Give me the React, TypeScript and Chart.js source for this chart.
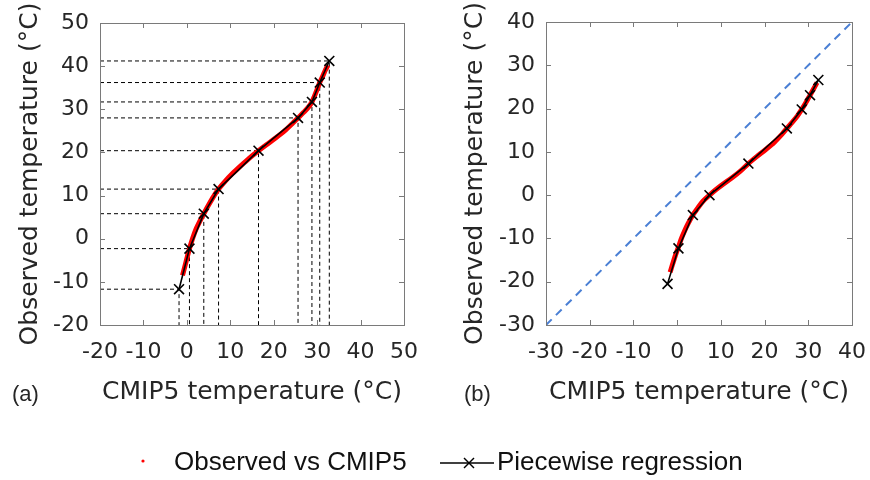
import React, { useEffect, useRef } from "react";
import { Chart, registerables } from "chart.js";

Chart.register(...registerables);

// ---------- data ----------
// Panel (a): observed vs CMIP5 (red)
const obsAX = [-1.0, -0.4, 0.1, 0.6, 1.3, 2.1, 3.0, 3.9, 5.0, 6.1, 7.3, 8.8, 10.5, 12.4, 14.4, 16.5, 18.5, 20.5, 22.5, 24.2, 25.6, 26.9, 28.0, 28.8, 29.4, 30.0, 30.6, 31.3, 31.9, 32.5];
const obsAY = [-8.5, -6.2, -4.2, -2.3, 0.0, 2.2, 4.1, 5.8, 7.8, 9.7, 11.5, 13.3, 15.1, 16.9, 18.7, 20.4, 21.9, 23.4, 25.0, 26.6, 28.0, 29.3, 30.5, 31.7, 33.1, 34.6, 36.2, 37.7, 39.1, 40.2];
// Panel (a): piecewise regression breakpoints
const regAX = [-1.8, 0.6, 3.9, 7.3, 16.5, 25.6, 28.8, 30.6, 32.8];
const regAY = [-11.7, -2.3, 5.8, 11.5, 20.4, 28.0, 31.7, 36.2, 41.2];

// Panel (b): observed vs CMIP5 (red)
const obsBX = [-1.6, -1.0, -0.4, 0.3, 0.9, 1.6, 2.5, 3.6, 4.7, 5.9, 7.4, 8.9, 10.6, 12.4, 14.4, 16.3, 18.2, 20.2, 22.2, 24.0, 25.1, 26.3, 27.5, 28.5, 29.4, 30.4, 31.3, 32.0];
const obsBY = [-17.8, -15.8, -13.9, -12.0, -10.2, -8.5, -6.6, -4.6, -3.0, -1.4, 0.0, 1.3, 2.6, 3.9, 5.5, 7.3, 8.9, 10.5, 12.2, 14.1, 15.4, 16.8, 18.3, 19.8, 21.3, 23.1, 24.7, 26.0];
// Panel (b): piecewise regression breakpoints
const regBX = [-2.2, 0.3, 3.6, 7.4, 16.3, 25.1, 28.5, 30.4, 32.3];
const regBY = [-20.5, -12.3, -4.6, 0.0, 7.3, 15.4, 19.8, 23.1, 26.6];

// 1:1 line for panel (b)
const diagX = [-30, 40];
const diagY = [-30, 40];

// axis ranges / ticks
const rangeA = [-20, 50];
const rangeB = [-30, 40];
const tickStep = 10;

const xTitle = "CMIP5 temperature (°C)";
const yTitle = "Observed temperature (°C)";
const legendObs = "Observed vs CMIP5";
const legendReg = "Piecewise regression";

// ---------- helpers ----------
const pts = (xs: number[], ys: number[]) => xs.map((x, i) => ({ x, y: ys[i] }));

const AXIS_FONT = "'DejaVu Sans', 'Liberation Sans', sans-serif";
const TEXT_COLOR = "#262626";

const boxPlugin = {
  id: "matlabBox",
  afterDatasetsDraw(chart: any) {
    const { ctx, chartArea: a, scales } = chart;
    ctx.save();
    ctx.strokeStyle = "#7a7a7a";
    ctx.lineWidth = 1;
    const L = 5;
    ctx.beginPath();
    scales.x.ticks.forEach((t: any) => {
      const px = Math.round(scales.x.getPixelForValue(t.value)) + 0.5;
      ctx.moveTo(px, a.bottom);
      ctx.lineTo(px, a.bottom - L);
      ctx.moveTo(px, a.top);
      ctx.lineTo(px, a.top + L);
    });
    scales.y.ticks.forEach((t: any) => {
      const py = Math.round(scales.y.getPixelForValue(t.value)) + 0.5;
      ctx.moveTo(a.left, py);
      ctx.lineTo(a.left + L, py);
      ctx.moveTo(a.right, py);
      ctx.lineTo(a.right - L, py);
    });
    ctx.stroke();
    ctx.strokeRect(Math.round(a.left) + 0.5, Math.round(a.top) + 0.5, Math.round(a.right - a.left), Math.round(a.bottom - a.top));
    ctx.restore();
  },
};

function makeConfig(opts: {
  range: number[];
  obs: { x: number; y: number }[];
  reg: { x: number; y: number }[];
  extra: any[];
  yAxisWidth: number;
  padRight: number;
  padTop: number;
  xAxisHeight: number;
  yTitlePad: number;
}) {
  return {
    type: "scatter" as const,
    data: {
      datasets: [
        {
          label: legendReg,
          data: opts.reg,
          showLine: true,
          borderColor: "#000000",
          borderWidth: 1.6,
          pointStyle: "crossRot",
          pointRadius: 7,
          pointBorderWidth: 1.6,
          pointBorderColor: "#000000",
          order: 0,
        },
        {
          label: legendObs,
          data: opts.obs,
          showLine: true,
          borderColor: "#ff0000",
          borderWidth: 5,
          tension: 0.3,
          pointRadius: 0,
          order: 1,
        },
        ...opts.extra,
      ],
    },
    options: {
      animation: false,
      responsive: false,
      devicePixelRatio: 1,
      layout: { padding: { left: 0, right: opts.padRight, top: opts.padTop, bottom: 0 } },
      plugins: { legend: { display: false }, tooltip: { enabled: false } },
      scales: {
        x: {
          type: "linear",
          min: opts.range[0],
          max: opts.range[1],
          grid: { display: false, drawTicks: false },
          border: { display: false },
          ticks: {
            stepSize: tickStep,
            padding: 14,
            color: TEXT_COLOR,
            font: { family: AXIS_FONT, size: 22 },
            maxRotation: 0,
            autoSkip: false,
          },
          title: {
            display: true,
            text: xTitle,
            color: TEXT_COLOR,
            font: { family: AXIS_FONT, size: 25 },
            padding: { top: 0, bottom: 13 },
          },
          afterFit: (s: any) => {
            s.height = opts.xAxisHeight;
            s.paddingLeft = 0;
            s.paddingRight = 0;
          },
        },
        y: {
          type: "linear",
          min: opts.range[0],
          max: opts.range[1],
          grid: { display: false, drawTicks: false },
          border: { display: false },
          ticks: {
            stepSize: tickStep,
            padding: 11,
            color: TEXT_COLOR,
            font: { family: AXIS_FONT, size: 22 },
            autoSkip: false,
          },
          title: {
            display: true,
            text: yTitle,
            color: TEXT_COLOR,
            font: { family: AXIS_FONT, size: 25 },
            padding: { top: opts.yTitlePad, bottom: 0 },
          },
          afterFit: (s: any) => {
            s.width = opts.yAxisWidth;
            s.paddingTop = 0;
            s.paddingBottom = 0;
          },
        },
      },
    },
    plugins: [boxPlugin],
  };
}

function guideLines(xs: number[], ys: number[], xMin: number, yMin: number) {
  return xs.map((x, i) => ({
    label: "guide" + i,
    data: [
      { x: xMin, y: ys[i] },
      { x, y: ys[i] },
      { x, y: yMin },
    ],
    showLine: true,
    borderColor: "#000000",
    borderWidth: 1,
    borderDash: [4, 3],
    pointRadius: 0,
    order: 2,
  }));
}

const CW = 435;
const CH = 420;

export default function App() {
  const refA = useRef<HTMLCanvasElement | null>(null);
  const refB = useRef<HTMLCanvasElement | null>(null);

  useEffect(() => {
    const cfgA = makeConfig({
      range: rangeA,
      obs: pts(obsAX, obsAY),
      reg: pts(regAX, regAY),
      extra: guideLines(regAX, regAY, rangeA[0], rangeA[0]),
      yAxisWidth: 100,
      padRight: CW - 404,
      padTop: 23,
      xAxisHeight: CH - 325,
      yTitlePad: 15,
    });
    const cfgB = makeConfig({
      range: rangeB,
      obs: pts(obsBX, obsBY),
      reg: pts(regBX, regBY),
      extra: [
        {
          label: "1:1",
          data: pts(diagX, diagY),
          showLine: true,
          borderColor: "#4a7fd4",
          borderWidth: 2,
          borderDash: [8, 6],
          pointRadius: 0,
          order: 2,
        },
      ],
      yAxisWidth: 546 - CW,
      padRight: 870 - 852,
      padTop: 22,
      xAxisHeight: CH - 325,
      yTitlePad: 25,
    });
    const a = new Chart(refA.current as HTMLCanvasElement, cfgA as any);
    const b = new Chart(refB.current as HTMLCanvasElement, cfgB as any);
    return () => {
      a.destroy();
      b.destroy();
    };
  }, []);

  const labelStyle: React.CSSProperties = {
    position: "absolute",
    fontFamily: "'Liberation Sans', Arial, sans-serif",
    fontSize: 22,
    color: "#262626",
    lineHeight: "24px",
  };
  const legendText: React.CSSProperties = {
    position: "absolute",
    fontFamily: "'Liberation Sans', Arial, sans-serif",
    fontSize: 26,
    color: "#111111",
    lineHeight: "30px",
    whiteSpace: "nowrap",
  };

  return (
    <div style={{ position: "fixed", left: 0, top: 0, width: 870, height: 480, background: "#ffffff", overflow: "hidden" }}>
      <canvas ref={refA} width={CW} height={CH} style={{ position: "absolute", left: 0, top: 0, width: CW, height: CH }} />
      <canvas ref={refB} width={CW} height={CH} style={{ position: "absolute", left: CW, top: 0, width: CW, height: CH }} />
      <div style={{ ...labelStyle, left: 12, top: 382 }}>(a)</div>
      <div style={{ ...labelStyle, left: 464, top: 382 }}>(b)</div>
      <svg width={870} height={480} style={{ position: "absolute", left: 0, top: 0, pointerEvents: "none" }}>
        <circle cx={143} cy={461} r={1.6} fill="#ff0000" />
        <line x1={440} y1={463} x2={494} y2={463} stroke="#000" strokeWidth={1.4} />
        <line x1={464} y1={458} x2={474} y2={468} stroke="#000" strokeWidth={1.4} />
        <line x1={464} y1={468} x2={474} y2={458} stroke="#000" strokeWidth={1.4} />
      </svg>
      <div style={{ ...legendText, left: 174, top: 446 }}>{legendObs}</div>
      <div style={{ ...legendText, left: 497, top: 446 }}>{legendReg}</div>
    </div>
  );
}
